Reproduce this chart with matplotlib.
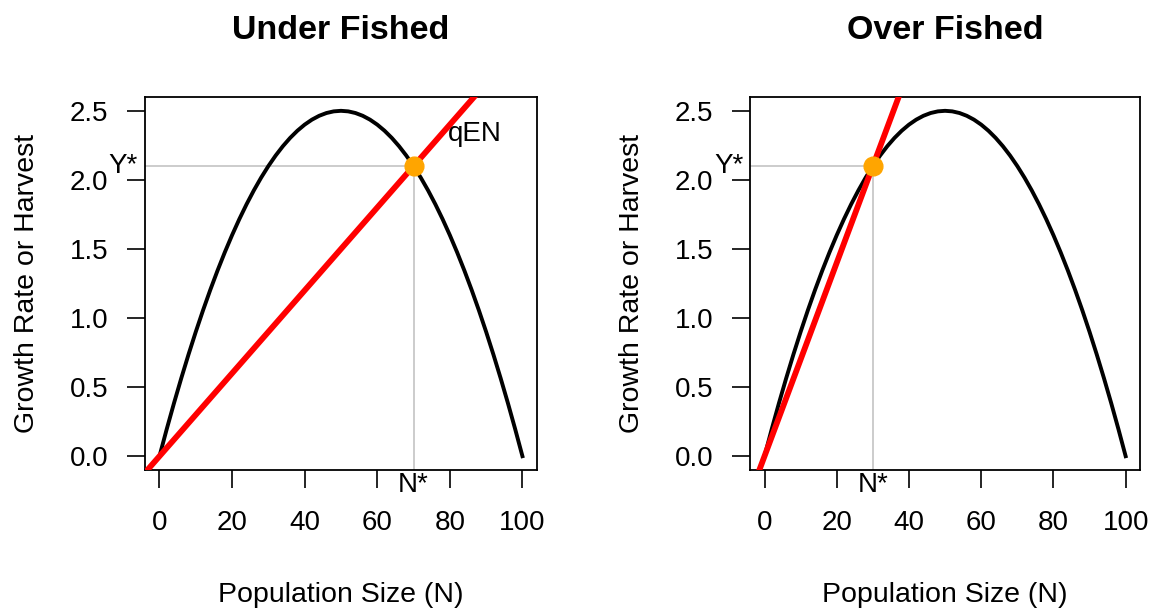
import numpy as np
import matplotlib
matplotlib.use("Agg")
import matplotlib.pyplot as plt

plt.rcParams['font.family'] = ['Liberation Sans', 'DejaVu Sans']

# growth curve (population size vs growth rate)
pop_size = list(range(0, 101, 2))
growth = [0, 0.196, 0.384, 0.564, 0.736, 0.9, 1.056, 1.204, 1.344, 1.476,
          1.6, 1.716, 1.824, 1.924, 2.016, 2.1, 2.176, 2.244, 2.304, 2.356,
          2.4, 2.436, 2.464, 2.484, 2.496, 2.5, 2.496, 2.484, 2.464, 2.436,
          2.4, 2.356, 2.304, 2.244, 2.176, 2.1, 2.016, 1.924, 1.824, 1.716,
          1.6, 1.476, 1.344, 1.204, 1.056, 0.9, 0.736, 0.564, 0.384, 0.196, 0]

titles = ["Under Fished", "Over Fished"]
harvest_slope = [0.03, 0.07]   # qE
n_star = [70, 30]
y_star = [2.1, 2.1]
xticks = [0, 20, 40, 60, 80, 100]
yticks = [0.0, 0.5, 1.0, 1.5, 2.0, 2.5]

fig = plt.figure(figsize=(11.55, 6.12), dpi=100)
boxes = [[0.1255, 0.232, 0.3394, 0.6095], [0.6494, 0.232, 0.3377, 0.6095]]

for i in range(2):
    ax = fig.add_axes(boxes[i])
    ax.set_xlim(-4, 104)
    ax.set_ylim(-0.1, 2.6)
    ax.plot(pop_size, growth, color='black', lw=2.8, zorder=3)
    ax.axline((0, 0), slope=harvest_slope[i], color='red', lw=4.2, zorder=4)
    # gray guide lines to the equilibrium
    ax.plot([n_star[i], n_star[i]], [-1, y_star[i]], color='#BEBEBE', lw=1.1, zorder=2)
    ax.plot([-10, n_star[i]], [y_star[i], y_star[i]], color='#BEBEBE', lw=1.1, zorder=2)
    ax.plot(n_star[i], y_star[i], 'o', color='orange', ms=13.5, zorder=5)

    ax.annotate("N*", (n_star[i], -0.1), xytext=(0, -1.5), textcoords='offset points',
                ha='center', va='top', fontsize=20, annotation_clip=False)
    ax.annotate("Y*", (-4, y_star[i]), xytext=(-5, 0), textcoords='offset points',
                ha='right', va='center', fontsize=20, annotation_clip=False)
    if i == 0:
        ax.text(87, 2.33, "qEN", ha='center', va='center', fontsize=20)

    ax.set_xticks(xticks)
    ax.set_yticks(yticks)
    ax.set_yticklabels([f"{v:.1f}" for v in yticks])
    ax.tick_params(axis='both', length=13, width=1.2, labelsize=20)
    ax.tick_params(axis='x', pad=16)
    ax.tick_params(axis='y', pad=13.5)
    for s in ax.spines.values():
        s.set_linewidth(1.3)
    ax.set_xlabel("Population Size (N)", fontsize=20.5, labelpad=33)
    ax.set_ylabel("Growth Rate or Harvest", fontsize=20.5, labelpad=21)
    ax.set_title(titles[i], fontsize=24.5, fontweight='bold', pad=42)

fig.savefig("out.png", dpi=100)
